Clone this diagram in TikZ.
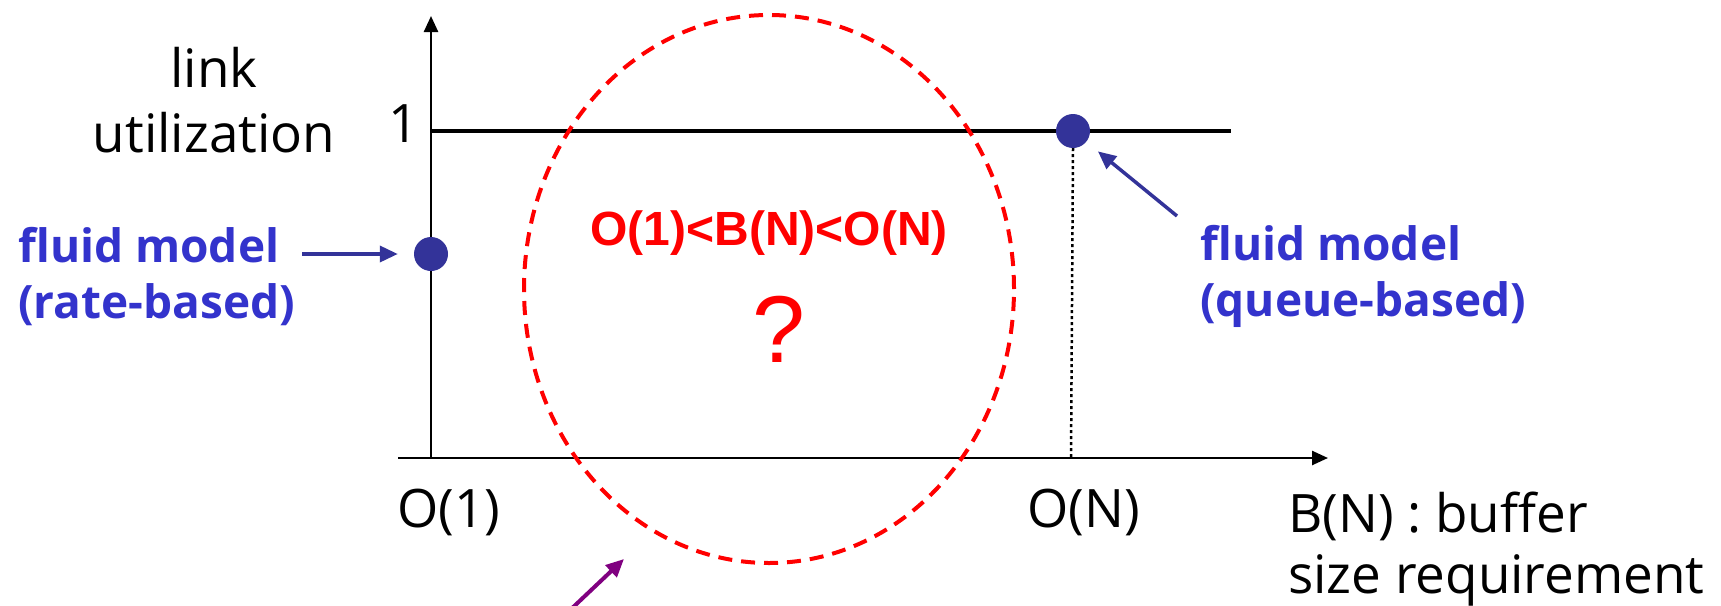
\documentclass[tikz,border=0pt]{standalone}
\usepackage{fontspec}
\setmainfont{Open Sans}
\newfontfamily\arialfont{Liberation Sans}
\usetikzlibrary{arrows.meta,shapes.geometric}
\definecolor{txtblue}{HTML}{3333CC}
\definecolor{dotblue}{HTML}{333399}
\definecolor{myred}{HTML}{FF0000}
\definecolor{mypurple}{HTML}{800080}
\tikzset{
  lbl/.style={inner sep=0pt, anchor=base west, font=\fontsize{53}{64}\selectfont},
  bluelbl/.style={inner sep=0pt, anchor=base west, text=txtblue, font=\fontsize{46}{56}\selectfont\bfseries},
  axis/.style={line width=2.5pt, -{Triangle[length=16pt,width=14pt]}},
  dotnode/.style={circle, fill=dotblue, inner sep=0pt, minimum size=34pt},
  bluearrow/.style={draw=dotblue, line width=3.5pt, -{Triangle[length=18pt,width=16pt]}},
  redcircle/.style={draw=myred, line width=4pt, dash pattern=on 14pt off 9pt, ellipse, inner sep=0pt},
}
\begin{document}
\begin{tikzpicture}[x=1pt,y=-1pt]
\useasboundingbox (0,0) rectangle (1721,605);
% axes
\coordinate (orig) at (431,458);
\coordinate (ytip) at (431,16);
\coordinate (xstart) at (398,458);
\coordinate (xtip) at (1328,458);
\draw[axis] (orig) -- (ytip);
\draw[axis] (xstart) -- (xtip);
% level 1 line
\coordinate (lineL) at (431,131);
\coordinate (lineR) at (1231,131);
\draw[line width=3.5pt] (lineL) -- (lineR);
% dashed red region
\node[redcircle, minimum width=490pt, minimum height=548pt] (region) at (769,289) {};
% dots
\node[dotnode] (d1) at (431,254) {};
\node[dotnode] (d2) at (1073,131) {};
\coordinate (d2foot) at (1071,458);
\draw[line width=2.5pt, dash pattern=on 3pt off 3pt] (d2.south) -- (d2foot);
% blue arrows
\coordinate (a1start) at (302,254);
\draw[bluearrow, shorten >=16pt] (a1start) -- (d1);
\coordinate (a2start) at (1177,216);
\draw[bluearrow, shorten >=15pt] (a2start) -- (d2);
% purple arrow
\coordinate (pstart) at (568,612);
\coordinate (ptip) at (624,559);
\draw[draw=mypurple, line width=4pt, -{Triangle[length=18pt,width=16pt]}] (pstart) -- (ptip);
% labels
\node[lbl, anchor=base] (link) at (214,87) {link};
\node[lbl, anchor=base] (util) at (214,152) {utilization};
\node[lbl] (one) at (388,142) {1};
\node[bluelbl] (fm1) at (18,262) {fluid model};
\node[bluelbl] (rb) at (18,318) {(rate-based)};
\node[bluelbl] (fm2) at (1200,260) {fluid model};
\node[bluelbl] (qb) at (1200,316) {(queue-based)};
\node[inner sep=0pt, anchor=base, text=myred, font=\fontsize{48}{56}\selectfont\arialfont\bfseries] (ineq) at (769,245) {O(1)<B(N)<O(N)};
\node[inner sep=0pt, anchor=base, text=myred, font=\fontsize{95}{110}\selectfont\arialfont] (q) at (779,362) {?};
\node[lbl] (o1) at (397,527) {O(1)};
\node[lbl] (on) at (1027,527) {O(N)};
\node[lbl] (bn) at (1288,532) {B(N) : buffer};
\node[lbl] (sr) at (1288,593) {size requirement};
\end{tikzpicture}
\end{document}
